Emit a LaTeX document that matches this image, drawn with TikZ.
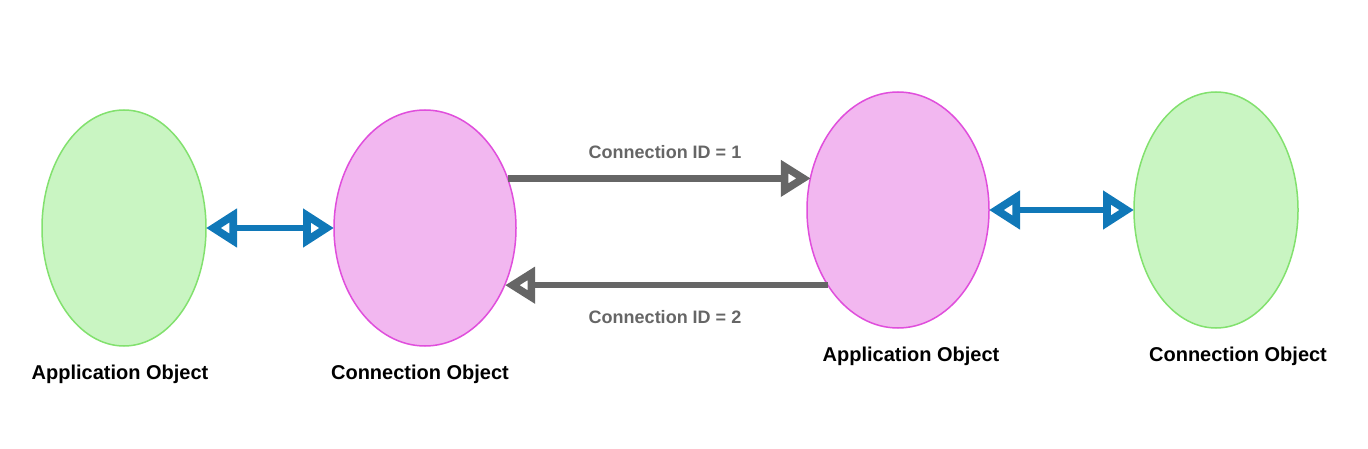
\documentclass[tikz,border=0pt]{standalone}
\usepackage{fontspec}
\setmainfont{Liberation Sans}
\usetikzlibrary{shapes.geometric,arrows.meta}
\definecolor{gfill}{RGB}{201,245,194}
\definecolor{gline}{RGB}{130,225,110}
\definecolor{pfill}{RGB}{242,183,240}
\definecolor{pline}{RGB}{224,78,220}
\definecolor{bluearr}{RGB}{16,120,184}
\definecolor{grayarr}{RGB}{102,102,102}
\tikzset{
  obj/.style={ellipse, draw, line width=1.5pt, inner sep=0pt, outer sep=0pt,
    minimum width=#1, minimum height=236pt},
  greenobj/.style={obj=164pt, fill=gfill, draw=gline},
  pinkobj/.style={obj=182pt, fill=pfill, draw=pline},
  lbl/.style={font=\fontsize{20}{24}\selectfont\bfseries, anchor=base, inner sep=0pt},
  idlbl/.style={font=\fontsize{18}{22}\selectfont\bfseries, text=grayarr, anchor=base, inner sep=0pt},
  bluetip/.tip={Triangle[open,length=31pt,width=37pt,line width=8pt]},
  graytip/.tip={Triangle[open,length=30pt,width=35pt,line width=8pt]},
  bluelink/.style={draw=bluearr, line width=6.5pt, bluetip-bluetip},
  graylink/.style={draw=grayarr, line width=6.5pt, -graytip},
}
\begin{document}
\begin{tikzpicture}[x=1pt,y=-1pt]
\useasboundingbox (0,0) rectangle (1368,449);
\fill[white] (0,0) rectangle (1368,449);
\node[greenobj] (a1) at (124,228) {};
\node[pinkobj]  (c1) at (425,228) {};
\node[pinkobj]  (a2) at (898,210) {};
\node[greenobj] (c2) at (1216,210) {};
\node[lbl] (la1) at (120,379) {Application Object};
\node[lbl] (lc1) at (420,379) {Connection Object};
\node[lbl] (la2) at (911,361) {Application Object};
\node[lbl] (lc2) at (1238,361) {Connection Object};
\draw[bluelink] (a1.east) -- (c1.west);
\draw[bluelink] (a2.east |- c2.west) -- (c2.west);
\draw[graylink] (c1.31.85) -- (c1.31.85 -| a2.159.3);
\draw[graylink] (a2.-133.8) -- (a2.-133.8 -| c1.-35);
\node[idlbl] (id1) at (665,159) {Connection ID = 1};
\node[idlbl] (id2) at (665,323) {Connection ID = 2};
\end{tikzpicture}
\end{document}
